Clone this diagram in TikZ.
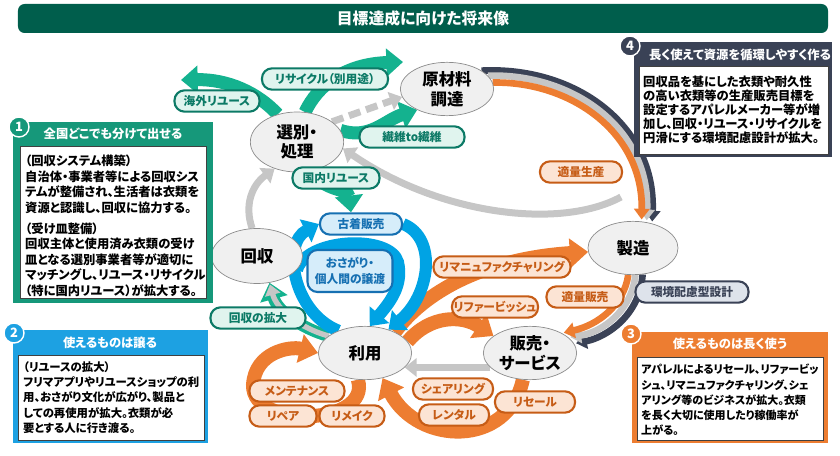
\documentclass[tikz,border=0pt]{standalone}
\usepackage{fontspec}
\setmainfont{Noto Sans CJK JP}[RawFeature=+palt]
\usetikzlibrary{shapes.geometric,arrows.meta}
\pgfdeclarelayer{background}
\pgfsetlayers{background,main}

\definecolor{titlegreen}{RGB}{0,94,76}
\definecolor{boxgreen}{RGB}{22,152,122}
\definecolor{tealarrow}{RGB}{20,178,143}
\definecolor{tealdark}{RGB}{12,122,102}
\definecolor{teallight}{RGB}{224,244,238}
\definecolor{boxblue}{RGB}{29,161,226}
\definecolor{bluearrow}{RGB}{0,163,228}
\definecolor{bluedark}{RGB}{22,112,178}
\definecolor{bluelight}{RGB}{214,237,250}
\definecolor{orng}{RGB}{237,125,49}
\definecolor{orngdark}{RGB}{198,92,22}
\definecolor{ornglight}{RGB}{252,228,212}
\definecolor{slate}{RGB}{58,66,86}
\definecolor{slatelight}{RGB}{222,227,235}
\definecolor{greyarrow}{RGB}{198,198,198}
\definecolor{ellfill}{RGB}{240,240,240}
\definecolor{ellline}{RGB}{140,140,140}

\begin{document}
\begin{tikzpicture}[x=0.03cm,y=-0.03cm]
\tikzstyle{stage}=[ellipse, draw=ellline, fill=ellfill, line width=0.6pt, minimum width=2.8cm, minimum height=1.6cm, inner sep=0pt, align=center, font=\bfseries\fontsize{14}{17}\selectfont]
\tikzstyle{pill}=[rounded corners=3mm, line width=1.8pt, minimum height=0.64cm, inner sep=0pt, align=center, font=\bfseries\fontsize{10}{12}\selectfont]
\tikzstyle{gpill}=[pill, draw=tealdark, fill=teallight, text=tealdark]
\tikzstyle{bpill}=[pill, draw=bluedark, fill=bluelight, text=bluedark]
\tikzstyle{opill}=[pill, draw=orngdark, fill=ornglight, text=orngdark]
\tikzstyle{npill}=[pill, draw=slate, fill=slatelight, text=slate]
\tikzstyle{header}=[text=white, inner sep=0pt, font=\bfseries\fontsize{10.5}{12}\selectfont]
\tikzstyle{badge}=[circle, draw=white, line width=1.2pt, minimum size=0.6cm, inner sep=0pt, text=white, font=\bfseries\fontsize{11}{12}\selectfont]
\tikzstyle{boxtext}=[anchor=north west, inner sep=0pt, align=left, font=\bfseries\fontsize{10.5}{13.2}\selectfont]
\tikzstyle{inner}=[fill=white, draw=black!75, line width=0.4pt]
\tikzstyle{greyflow}=[draw=greyarrow, line width=2.1mm, -{Triangle[length=3.6mm,width=5.5mm]}]
\tikzstyle{greenflow}=[draw=tealarrow, line width=3.9mm, -{Triangle[length=5mm,width=8.2mm]}]
\tikzstyle{blueflow}=[draw=bluearrow, line width=3.6mm, -{Triangle[length=4.5mm,width=7.5mm]}]
\tikzstyle{orangeflow}=[draw=orng, line width=4.2mm, -{Triangle[length=5.5mm,width=8.5mm]}]
\tikzstyle{band}=[line width=2mm, shorten >=0.6mm, -{Triangle[length=3.2mm,width=4.6mm]}]

\useasboundingbox (0,0) rectangle (840,456);

\node[fill=titlegreen, rounded corners=2mm, minimum width=24.3cm, minimum height=0.87cm, text=white, font=\bfseries\fontsize{13.5}{15}\selectfont] (Z) at (423,18.5) {目標達成に向けた将来像};

\node[stage] (A) at (447,89) {原材料\\調達};
\node[stage, minimum height=1.8cm] (B) at (297,142) {選別・\\処理};
\node[stage, minimum width=2.73cm, minimum height=1.65cm] (C) at (257,256) {回収};
\node[stage] (D) at (365,353) {利用};
\node[stage, minimum width=2.7cm] (E) at (633,248) {製造};
\node[stage] (F) at (530,353) {販売・\\サービス};

\node[gpill, minimum width=2.55cm] (G) at (217,101) {海外リユース};
\node[gpill, minimum width=3.78cm] (H) at (325,79) {リサイクル（別用途）};
\node[gpill, minimum width=3.15cm] (I) at (412,137) {繊維to繊維};
\node[gpill, minimum width=2.61cm] (J) at (336,178) {国内リユース};
\node[gpill, minimum width=2.85cm] (K) at (258,318) {回収の拡大};
\node[bpill, minimum width=2.46cm] (L) at (361,224) {古着販売};
\node[bpill, minimum width=2.55cm, minimum height=1.26cm, font=\bfseries\fontsize{10}{13.5}\selectfont] (M) at (350,271) {おさがり・\\個人間の譲渡};
\node[opill, minimum width=2.46cm] (N) at (581,172) {適量生産};
\node[opill, minimum width=4.11cm] (O) at (502,267) {リマニュファクチャリング};
\node[opill, minimum width=2.31cm] (P) at (585,297) {適量販売};
\node[opill, minimum width=2.58cm] (Q) at (495,307) {リファービッシュ};
\node[opill, minimum width=2.85cm] (R) at (297,391) {メンテナンス};
\node[opill, minimum width=2.01cm] (S) at (283,416) {リペア};
\node[opill, minimum width=1.95cm] (U) at (352,416) {リメイク};
\node[opill, minimum width=2.4cm] (V) at (453,389) {シェアリング};
\node[opill, minimum width=2.1cm] (W) at (454,415) {レンタル};
\node[opill, minimum width=2.4cm] (X) at (535,402) {リセール};
\node[npill, minimum width=3.39cm] (Y) at (692,292) {環境配慮型設計};

\begin{pgfonlayer}{background}
\draw[greenflow] (B.125) .. controls (258,93) and (228,79) .. (181,80);
\draw[greenflow] (B.75) .. controls (318,85) and (345,64) .. (403,62);
\draw[greenflow] (B.15) .. controls (370,140) and (385,120) .. (A.215);
\draw[greenflow] (B.-65) .. controls (325,192) and (348,188) .. ([xshift=-0.3cm]L.north);
\draw[greenflow, line width=3.6mm] (D.155) .. controls (300,328) and (277,310) .. (C.-65);
\draw[greyflow, line width=1.6mm, shorten >=0.5mm, -{Triangle[length=3.2mm,width=4.6mm]}] (D.155) .. controls (300,328) and (277,310) .. (C.-65);

\draw[greyflow, dash pattern=on 3.6mm off 1.8mm] (B.30) -- (A.190);
\draw[greyflow] (C.100) .. controls (244,205) and (252,185) .. (B.-130);
\coordinate (Gs) at (621,197);
\draw[greyflow] (Gs) .. controls (560,230) and (440,215) .. (B.-8);
\draw[greyflow] (F.200) -- (D.-20);

\draw[band, draw=slate] (A.28) .. controls (575,66) and (656,125) .. (E.52);
\draw[band, draw=greyarrow] (A.18) .. controls (572,73) and (650,128) .. (E.62);
\draw[band, draw=orng] (A.8) .. controls (569,81) and (643,131) .. (E.72);
\draw[band, draw=slate] (E.-70) .. controls (640,315) and (607,337) .. (F.12);
\draw[band, draw=greyarrow] (E.-85) .. controls (632,310) and (603,332) .. (F.22);
\draw[band, draw=orng] (E.-100) .. controls (624,305) and (598,325) .. (F.32);

\draw[orangeflow] (D.35) .. controls (430,285) and (495,258) .. (E.185);
\draw[orangeflow] (D.15) .. controls (430,315) and (462,315) .. (F.155);
\draw[orangeflow] (D.-105) .. controls (372,425) and (252,430) .. (253,385) .. controls (255,352) and (290,346) .. (D.180);
\draw[orangeflow] (F.-105) .. controls (508,448) and (418,445) .. (D.-55);

\draw[blueflow] (D.140) .. controls (292,312) and (282,243) .. (L.west);
\draw[blueflow] (L.east) .. controls (438,238) and (430,296) .. (D.45);
\coordinate (Os) at (297,270);
\draw[blueflow] (Os) .. controls (306,238) and (390,234) .. (398,262) .. controls (403,284) and (392,300) .. (D.80);
\end{pgfonlayer}

\begin{scope}[shift={(13,122)}]
\fill[boxgreen] (0,0) rectangle (200,181);
\filldraw[inner] (7,24) rectangle (193,176);
\node[header] (H1) at (100,12) {全国どこでも分けて出せる};
\node[boxtext] (T1) at (12,33) {（回収システム構築）\\自治体・事業者等による回収シス\\テムが整備され、生活者は衣類を\\資源と認識し、回収に協力する。\\[4.7pt]（受け皿整備）\\回収主体と使用済み衣類の受け\\皿となる選別事業者等が適切に\\マッチングし、リユース・リサイクル\\（特に国内リユース）が拡大する。};
\node[badge, fill=boxgreen] (N1) at (6,5) {1};
\end{scope}

\begin{scope}[shift={(13,330)}]
\fill[boxblue] (0,0) rectangle (195,113);
\filldraw[inner] (5,25) rectangle (191,110);
\node[header] (H2) at (97,13) {使えるものは譲る};
\node[boxtext, font=\bfseries\fontsize{9.7}{13.2}\selectfont] (T2) at (10,31) {（リユースの拡大）\\フリマアプリやリユースショップの利\\用、おさがり文化が広がり、製品と\\しての再使用が拡大。衣類が必\\要とする人に行き渡る。};
\node[badge, fill=boxblue] (N2) at (1,3) {2};
\end{scope}

\begin{scope}[shift={(632,332)}]
\fill[orng] (0,0) rectangle (196,111);
\filldraw[inner] (5,25) rectangle (191,108);
\node[header] (H3) at (98,12) {使えるものは長く使う};
\node[boxtext, font=\bfseries\fontsize{9.4}{13}\selectfont] (T3) at (9,32) {アパレルによるリセール、リファービッ\\シュ、リマニュファクチャリング、シェ\\アリング等のビジネスが拡大。衣類\\を長く大切に使用したり稼働率が\\上がる。};
\node[badge, fill=orng] (N3) at (-1,2) {3};
\end{scope}

\begin{scope}[shift={(634,42)}]
\fill[slate] (0,0) rectangle (198,115);
\filldraw[inner] (5,24) rectangle (194,112);
\node[header] (H4) at (106,13) {長く使えて資源を循環しやすく作る};
\node[boxtext, font=\bfseries\fontsize{10.5}{12}\selectfont] (T4) at (9,34) {回収品を基にした衣類や耐久性\\の高い衣類等の生産販売目標を\\設定するアパレルメーカー等が増\\加し、回収・リユース・リサイクルを\\円滑にする環境配慮設計が拡大。};
\node[badge, fill=slate] (N4) at (-4,4) {4};
\end{scope}

\end{tikzpicture}
\end{document}
